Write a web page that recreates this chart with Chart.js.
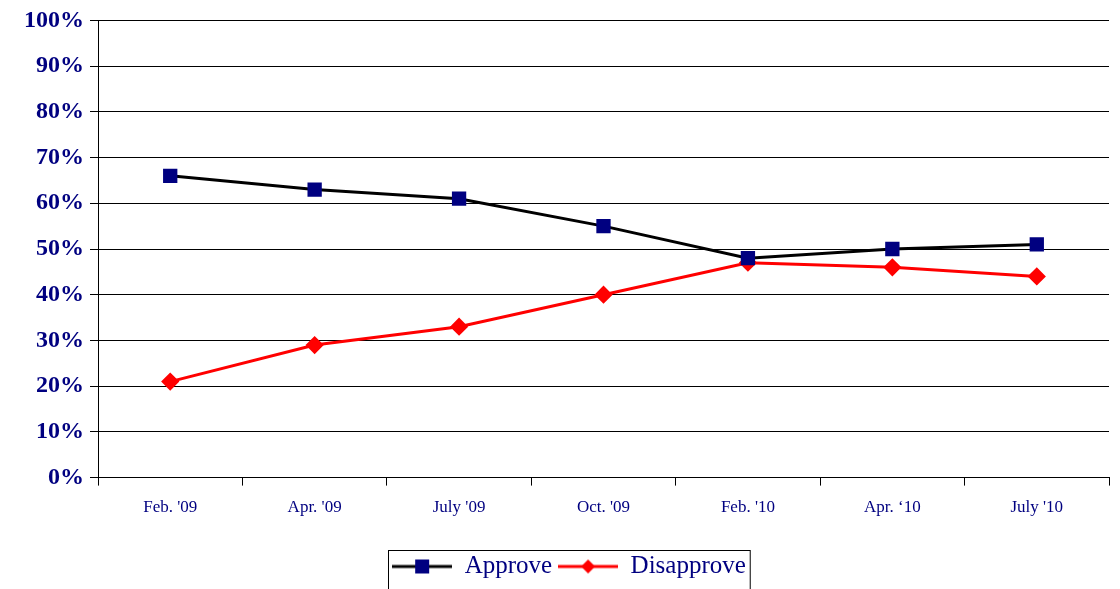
<!DOCTYPE html>
<html><head><meta charset="utf-8">
<script src="https://cdn.jsdelivr.net/npm/chart.js@4/dist/chart.umd.min.js"></script>
<style>html,body{margin:0;background:#fff}#wrap{width:1120px;height:589px}</style>
</head><body><div id="wrap"><canvas id="c"></canvas></div>
<script>
const categories = ["Feb. '09", "Apr. '09", "July '09", "Oct. '09", "Feb. '10", "Apr. \u201810", "July '10"];
const approve = [66, 63, 61, 55, 48, 50, 51];
const disapprove = [21, 29, 33, 40, 47, 46, 44];

function legendIcon(color, lineColor, shape) {
  const cv = document.createElement('canvas');
  cv.width = 60; cv.height = 16;
  const g = cv.getContext('2d');
  g.strokeStyle = lineColor; g.lineWidth = 3;
  g.beginPath(); g.moveTo(0, 8); g.lineTo(60, 8); g.stroke();
  g.fillStyle = color;
  if (shape === 'rect') g.fillRect(23, 1, 14, 14);
  else { g.beginPath(); g.moveTo(30, 1); g.lineTo(37, 8); g.lineTo(30, 15); g.lineTo(23, 8); g.closePath(); g.fill(); }
  return cv;
}

const boxPlugin = {
  id: 'legendBox',
  afterDraw(chart) {
    const l = chart.legend, g = chart.ctx, hb = l.legendHitBoxes;
    if (!hb || !hb.length) return;
    const x0 = hb[0].left - 4, x1 = hb[hb.length - 1].left + hb[hb.length - 1].width + 4;
    const y0 = hb[0].top - 4;
    g.save(); g.strokeStyle = '#000'; g.lineWidth = 1;
    g.strokeRect(Math.round(x0) + 0.5, Math.round(y0) + 0.5, x1 - x0, 60);
    g.restore();
  }
};

new Chart(document.getElementById('c'), {
  type: 'line',
  data: {
    labels: categories,
    datasets: [
      { label: 'Approve', data: approve, borderColor: '#000', borderWidth: 3, pointStyle: 'rect', pointRadius: 8, pointBackgroundColor: '#000080', pointBorderColor: '#000080', tension: 0 },
      { label: 'Disapprove', data: disapprove, borderColor: '#ff0000', borderWidth: 3, pointStyle: 'rectRot', pointRadius: 7, pointBackgroundColor: '#ff0000', pointBorderColor: '#ff0000', tension: 0 }
    ]
  },
  options: {
    animation: false, responsive: true, maintainAspectRatio: false,
    layout: { padding: { top: 20, right: 0, left: 18, bottom: 0 } },
    plugins: {
      tooltip: { enabled: false },
      legend: {
        position: 'bottom',
        labels: {
          color: '#000080', font: { family: 'Liberation Serif', size: 25 }, padding: 6, boxHeight: 16, pointStyleWidth: 60,
          usePointStyle: true,
          generateLabels: () => [
            { text: 'Approve', pointStyle: legendIcon('#000080', '#000', 'rect'), fillStyle: '#000', strokeStyle: '#000', lineWidth: 0, fontColor: '#000080' },
            { text: 'Disapprove', pointStyle: legendIcon('#ff0000', '#ff0000', 'diamond'), fillStyle: '#f00', strokeStyle: '#f00', lineWidth: 0, fontColor: '#000080' }
          ]
        }
      }
    },
    scales: {
      x: {
        offset: true,
        grid: { offset: true, drawOnChartArea: false, color: '#000', tickLength: 8 },
        border: { color: '#000', width: 1 },
        ticks: { color: '#000080', font: { family: 'Liberation Serif', size: 17 }, padding: 12, maxRotation: 0 },
        afterFit: s => { s.height += 18; }
      },
      y: {
        min: 0, max: 100,
        grid: { color: '#000', tickLength: 8 },
        border: { color: '#000', width: 1 },
        ticks: { stepSize: 10, color: '#000080', font: { family: 'Liberation Serif', size: 24, weight: 'bold' }, padding: 6, callback: v => v + '%' }
      }
    }
  },
  plugins: [boxPlugin]
});
</script></body></html>
